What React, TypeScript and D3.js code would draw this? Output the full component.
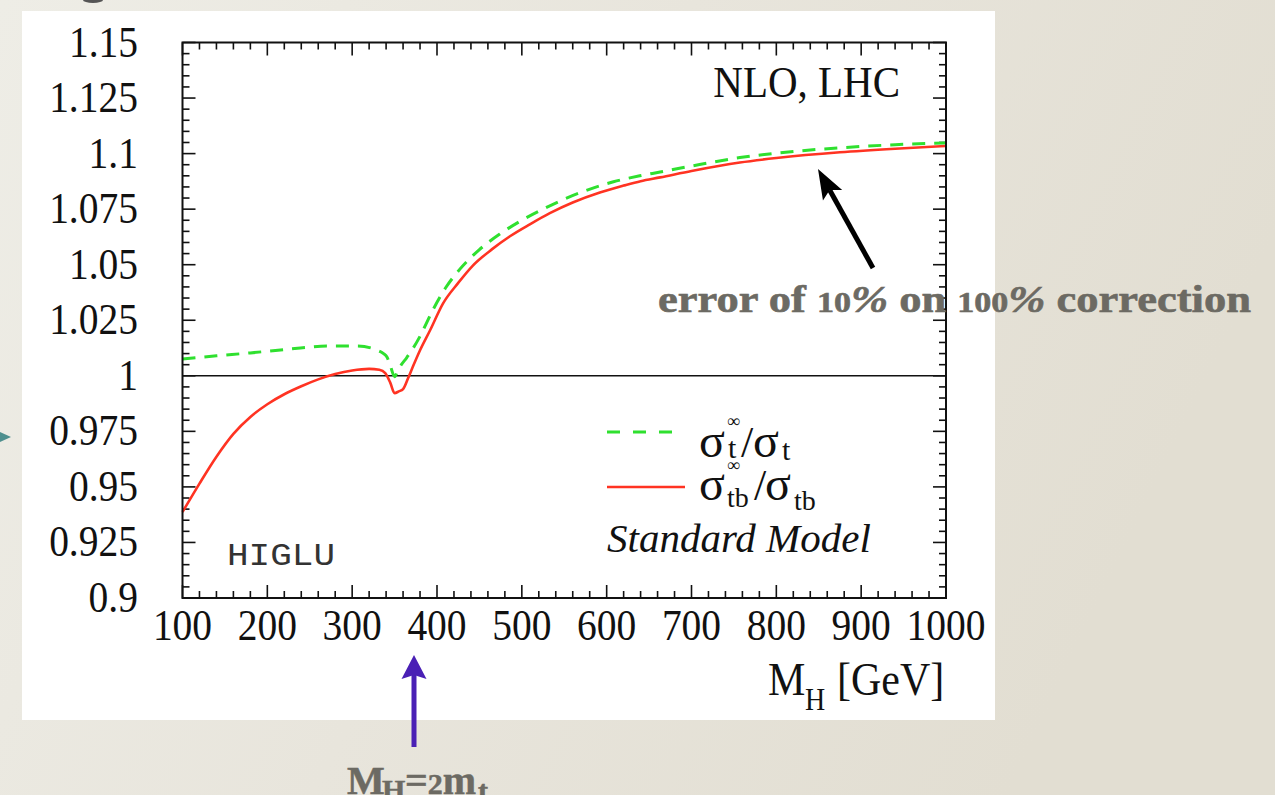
import React from "react";
import * as d3 from "d3";

// Higgs mass grid and K-factor ratios (heavy-top limit over full result)
const massTB = [100, 120, 140, 160, 180, 200, 220, 240, 260, 280, 300, 320, 332, 339, 345, 350, 355, 360, 366, 372, 380, 392, 407, 425, 442, 465, 486, 510, 533, 560, 592, 620, 640, 663, 700, 757, 800, 875, 940, 1000];
const ratioTB = [0.9387, 0.9515, 0.9636, 0.9739, 0.9815, 0.9872, 0.9917, 0.9953, 0.9984, 1.0008, 1.0024, 1.0031, 1.0027, 1.0012, 0.9968, 0.9922, 0.993, 0.994, 0.999, 1.0045, 1.0115, 1.0206, 1.0325, 1.0418, 1.0495, 1.057, 1.0628, 1.0683, 1.0732, 1.078, 1.0825, 1.0856, 1.0876, 1.0893, 1.0922, 1.096, 1.098, 1.1006, 1.1022, 1.1034];

const massT = [100, 140, 180, 239, 270, 306, 329, 337, 341, 345, 350, 354, 358, 364, 372, 380, 395, 410, 427, 450, 474, 500, 525, 550, 577, 608, 639, 663, 700, 757, 800, 875, 940, 1000];
const ratioT = [1.0076, 1.009, 1.0103, 1.0125, 1.0134, 1.0134, 1.0116, 1.01, 1.0085, 1.0045, 0.9996, 1.0026, 1.005, 1.008, 1.0125, 1.0178, 1.0295, 1.0395, 1.048, 1.0568, 1.0638, 1.07, 1.075, 1.0795, 1.0836, 1.0873, 1.09, 1.0917, 1.0944, 1.0982, 1.1002, 1.1026, 1.104, 1.1048];

const xTickLabels = ["100", "200", "300", "400", "500", "600", "700", "800", "900", "1000"];
const yTickLabels = ["0.9", "0.925", "0.95", "0.975", "1", "1.025", "1.05", "1.075", "1.1", "1.125", "1.15"];

const W = 1275;
const H = 795;
const serif = "'Liberation Serif', 'Times New Roman', serif";
const noteColor = "#6c6a63";
const green = "#2fe02f";
const red = "#ff3322";

export default function App() {
  const x = d3.scaleLinear().domain([100, 1000]).range([182.5, 946]);
  const y = d3.scaleLinear().domain([0.9, 1.15]).range([598, 42.5]);
  const [x0, x1] = x.range();
  const [y0, y1] = y.range();

  const line = d3
    .line<[number, number]>()
    .x((d) => x(d[0]))
    .y((d) => y(d[1]))
    .curve(d3.curveMonotoneX);

  const tbPath = line(massTB.map((m, i) => [m, ratioTB[i]]) as [number, number][]) || "";
  const tPath = line(massT.map((m, i) => [m, ratioT[i]]) as [number, number][]) || "";

  const xMinor = d3.range(100, 1000.1, 20);
  const yMinor = d3.range(0.9, 1.1501, 0.005);
  const MAJ = 13;
  const MIN = 7;

  // black annotation arrow
  const tip = [818, 169];
  const tail = [873, 268];
  const dx = tip[0] - tail[0];
  const dy = tip[1] - tail[1];
  const len = Math.hypot(dx, dy);
  const ux = dx / len;
  const uy = dy / len;
  const nx = -uy;
  const ny = ux;
  const headL = 30;
  const headW = 11;
  const bx = tip[0] - headL * ux;
  const by = tip[1] - headL * uy;
  const notchX = tip[0] - headL * 0.8 * ux;
  const notchY = tip[1] - headL * 0.8 * uy;

  const tickText = (label: string, tx: number, ty: number, anchor: string) => (
    <text
      key={label + anchor}
      transform={`translate(${tx},${ty}) scale(1,1.1)`}
      textAnchor={anchor}
      fontFamily={serif}
      fontSize={39.5}
      fill="#111"
    >
      {label}
    </text>
  );

  return (
    <svg width={W} height={H} style={{ position: "absolute", left: 0, top: 0 }}>
      <defs>
        <linearGradient id="paper" x1="0" y1="0" x2="1" y2="0.3">
          <stop offset="0" stopColor="#eeede6" />
          <stop offset="0.5" stopColor="#e8e5dc" />
          <stop offset="1" stopColor="#e2ded2" />
        </linearGradient>
      </defs>
      <rect x={0} y={0} width={W} height={H} fill="url(#paper)" />
      <ellipse cx={93} cy={0} rx={10} ry={3} fill="#555" />
      <polygon points="0,432 11,437 0,442" fill="#4e8f8e" />

      <rect x={22} y={11} width={973} height={709} fill="#fff" />

      {/* ticks on all four sides */}
      <g stroke="#111" strokeWidth={1.6}>
        {xMinor.map((v, i) => {
          const L = i % 5 === 0 ? MAJ : MIN;
          const px = x(v);
          return (
            <g key={"xt" + i}>
              <line x1={px} x2={px} y1={y0} y2={y0 - L} />
              <line x1={px} x2={px} y1={y1} y2={y1 + L} />
            </g>
          );
        })}
        {yMinor.map((v, i) => {
          const L = i % 5 === 0 ? MAJ : MIN;
          const py = y(v);
          return (
            <g key={"yt" + i}>
              <line x1={x0} x2={x0 + L} y1={py} y2={py} />
              <line x1={x1} x2={x1 - L} y1={py} y2={py} />
            </g>
          );
        })}
      </g>

      {/* reference line at unity */}
      <line x1={x0} x2={x1} y1={y(1)} y2={y(1)} stroke="#111" strokeWidth={1.6} />

      <path d={tPath} fill="none" stroke={green} strokeWidth={3} strokeDasharray="13 9" />
      <path d={tbPath} fill="none" stroke={red} strokeWidth={2.6} />

      <rect x={x0} y={y1} width={x1 - x0} height={y0 - y1} fill="none" stroke="#111" strokeWidth={2} />

      {xTickLabels.map((l) => tickText(l, x(+l), 640, "middle"))}
      {yTickLabels.map((l) => tickText(l, 138, y(+l) + 14, "end"))}

      {/* axis title */}
      <g fontFamily={serif} fill="#111">
        <text transform="translate(768,695) scale(1,1.1)" fontSize={42}>M</text>
        <text transform="translate(805,710) scale(1,1.1)" fontSize={28}>H</text>
        <text transform="translate(837,695) scale(1,1.1)" fontSize={42}>[GeV]</text>
      </g>

      <text transform="translate(900,97) scale(1,1.06)" textAnchor="end" fontFamily={serif} fontSize={41} fill="#111">
        NLO, LHC
      </text>

      <text
        transform="translate(227,565) scale(1,0.87)"
        fontFamily="'Liberation Mono', 'Courier New', monospace"
        fontSize={36}
        fill="#333"
      >
        HIGLU
      </text>

      {/* legend */}
      <line x1={607} x2={672} y1={432} y2={432} stroke={green} strokeWidth={3} strokeDasharray="13 13" />
      <line x1={607} x2={685} y1={487} y2={487} stroke={red} strokeWidth={2.6} />
      <g fontFamily={serif} fill="#111">
        <text x={699} y={457} fontSize={48}>σ</text>
        <text x={727} y={427} fontSize={18}>∞</text>
        <text x={728} y={458} fontSize={30}>t</text>
        <text x={741} y={457} fontSize={44}>/</text>
        <text x={753} y={457} fontSize={48}>σ</text>
        <text x={782} y={460} fontSize={30}>t</text>

        <text x={699} y={500} fontSize={48}>σ</text>
        <text x={727} y={471} fontSize={18}>∞</text>
        <text x={727} y={507} fontSize={28}>tb</text>
        <text x={754} y={500} fontSize={44}>/</text>
        <text x={765} y={500} fontSize={48}>σ</text>
        <text x={794} y={510} fontSize={28}>tb</text>

        <text x={607} y={552} fontSize={41} fontStyle="italic">Standard Model</text>
      </g>

      {/* annotations */}
      <path
        d={`M${tail[0] + 2.5 * nx},${tail[1] + 2.5 * ny} L${notchX + 2.5 * nx},${notchY + 2.5 * ny} L${notchX - 2.5 * nx},${notchY - 2.5 * ny} L${tail[0] - 2.5 * nx},${tail[1] - 2.5 * ny} Z`}
        fill="#000"
      />
      <polygon
        points={`${tip[0]},${tip[1]} ${bx + headW * nx},${by + headW * ny} ${notchX},${notchY} ${bx - headW * nx},${by - headW * ny}`}
        fill="#000"
      />
      <text
        x={658}
        y={312}
        fontFamily={serif}
        fontWeight="bold"
        fontSize={38}
        fill={noteColor}
        stroke={noteColor}
        strokeWidth={0.6}
        textLength={593}
        lengthAdjust="spacingAndGlyphs"
      >
        error of <tspan fontSize={29}>10</tspan>
        <tspan fontStyle="italic">%</tspan> on <tspan fontSize={29}>100</tspan>
        <tspan fontStyle="italic">%</tspan> correction
      </text>

      <rect x={411.5} y={672} width={5} height={75} fill="#4a20b5" />
      <polygon points="414,655 426.5,679 414,675 401.5,679" fill="#4a20b5" />
      <g fontFamily={serif} fontWeight="bold" fill={noteColor} stroke={noteColor} strokeWidth={0.5}>
        <text x={347} y={794} fontSize={40}>M</text>
        <text x={382} y={800} fontSize={30}>H</text>
        <text x={405} y={794} fontSize={40}>
          =<tspan fontSize={30}>2</tspan>m
        </text>
        <text x={478} y={801} fontSize={30}>t</text>
      </g>
    </svg>
  );
}
